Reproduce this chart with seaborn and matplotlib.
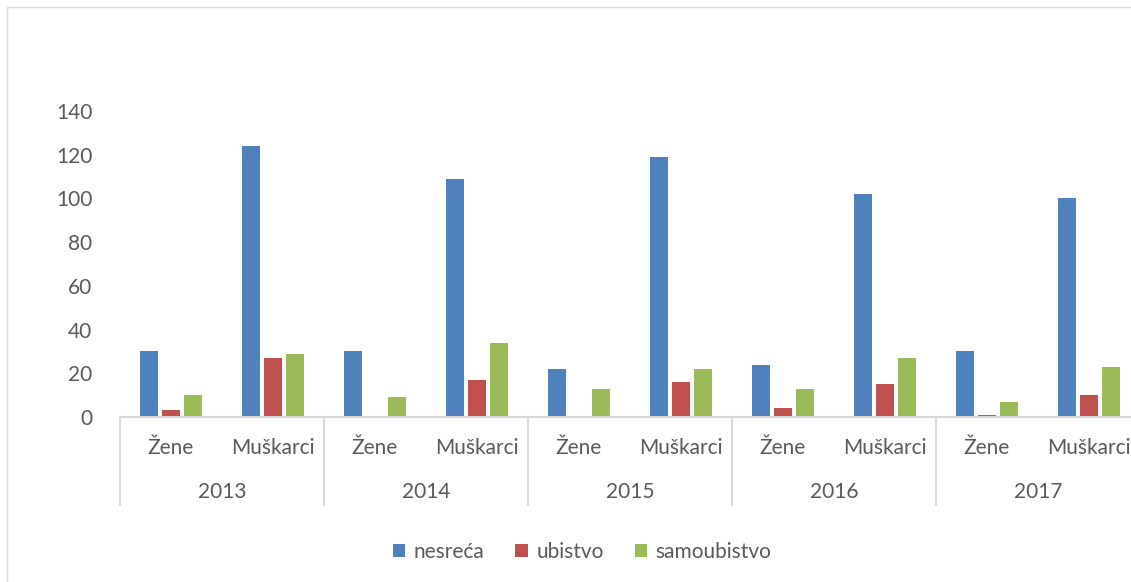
import pandas as pd
import matplotlib
import matplotlib.pyplot as plt
import seaborn as sns
from matplotlib.patches import Rectangle

matplotlib.use("Agg")

# data
years = ["2013", "2014", "2015", "2016", "2017"]
genders = ["Žene", "Muškarci"]
series = ["nesreća", "ubistvo", "samoubistvo"]
nesreca = [30, 124, 30, 109, 22, 119, 24, 102, 30, 100]
ubistvo = [3, 27, 0, 17, 0, 16, 4, 15, 1, 10]
samoubistvo = [10, 29, 9, 34, 13, 22, 13, 27, 7, 23]
colors = ["#4F81BD", "#C0504D", "#9BBB59"]

cats = [f"{y} {g}" for y in years for g in genders]
rows = []
for name, vals in zip(series, [nesreca, ubistvo, samoubistvo]):
    for c, v in zip(cats, vals):
        rows.append({"cat": c, "serija": name, "value": v})
df = pd.DataFrame(rows)

sns.set_theme(style="white")
plt.rcParams["font.family"] = ["Lato", "DejaVu Sans"]
text_col = "#595959"
line_col = "#D9D9D9"
fs = 15

W, H = 1131, 582
fig = plt.figure(figsize=(W / 100, H / 100), dpi=100)
# plot area runs past the right edge, as in the reference
ax = fig.add_axes([120 / W, (H - 417) / H, 1020 / W, 306 / H])

sns.barplot(
    data=df, x="cat", y="value", hue="serija", order=cats, hue_order=series,
    palette=colors, width=0.66, gap=0.2, linewidth=0, saturation=1, ax=ax,
)

ax.set_ylim(0, 140)
ax.set_xlim(-0.5, len(cats) - 0.5)
ax.set_yticks(range(0, 141, 20))
ax.tick_params(axis="y", length=0, labelsize=fs, labelcolor=text_col, pad=20)
ax.set_xticks(range(len(cats)))
ax.set_xticklabels([g for y in years for g in genders])
ax.tick_params(axis="x", length=0, labelsize=fs, labelcolor=text_col, pad=15)
ax.set_xlabel("")
ax.set_ylabel("")
for s in ["top", "right", "left"]:
    ax.spines[s].set_visible(False)
ax.spines["bottom"].set_color(line_col)
ax.spines["bottom"].set_linewidth(1.5)

# second level of the category axis: years and separators
trans = ax.get_xaxis_transform()
depth = 88 / 306
for i, y in enumerate(years):
    ax.text(2 * i + 0.5, -75 / 306, y, transform=trans, ha="center", va="center",
            fontsize=fs, color=text_col)
for i in range(len(years) + 1):
    ax.plot([2 * i - 0.5, 2 * i - 0.5], [0, -depth], transform=trans,
            color=line_col, lw=1.5, clip_on=False)

handles, labels = ax.get_legend_handles_labels()
ax.get_legend().remove()
fig.legend(
    handles, labels, loc="center", bbox_to_anchor=(582 / W, 1 - 552 / H), ncol=3,
    frameon=False, fontsize=fs, handlelength=0.6, handleheight=0.6,
    handletextpad=0.4, columnspacing=1.5, labelcolor=text_col,
)

# thin chart border
fig.add_artist(Rectangle((7 / W, -0.1), 2, 1.1 - 7 / H, transform=fig.transFigure,
                         fill=False, edgecolor=line_col, lw=1))

fig.savefig("out.png", dpi=100)
